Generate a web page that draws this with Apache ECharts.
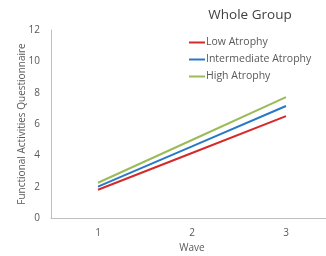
<!DOCTYPE html>
<html>
<head>
<meta charset="utf-8">
<script src="https://cdn.jsdelivr.net/npm/echarts@6/dist/echarts.min.js"></script>
<style>
  html, body { margin: 0; padding: 0; background: #fff; }
  #main { width: 326px; height: 256px; }
</style>
</head>
<body>
<div id="main"></div>
<script>
const waves = ['1', '2', '3']
const lowAtrophy = [1.8, 4.15, 6.5]
const intermediateAtrophy = [2.0, 4.57, 7.15]
const highAtrophy = [2.25, 4.98, 7.72]
const yTicks = [0, 2, 4, 6, 8, 10, 12]

const font = 'Open Sans'
const chart = echarts.init(document.getElementById('main'))

const mkLine = (name, data, color) => ({
  name,
  type: 'line',
  data,
  symbol: 'none',
  lineStyle: { color, width: 2 },
  itemStyle: { color }
})

chart.setOption({
  animation: false,
  title: {
    text: 'Whole Group',
    left: 245,
    top: 3,
    textAlign: 'center',
    textStyle: { fontFamily: font, fontSize: 13.5, fontWeight: 'normal', color: '#404040' }
  },
  legend: {
    left: 184,
    top: 32,
    orient: 'vertical',
    itemGap: 6,
    itemWidth: 16,
    itemHeight: 2,
    icon: 'rect',
    textStyle: { fontFamily: font, fontSize: 10.5, color: '#595959', padding: [0, 0, 0, -4] },
    data: ['Low Atrophy', 'Intermediate Atrophy', 'High Atrophy']
  },
  grid: { left: 51, top: 30, width: 282, height: 188, outerBoundsMode: 'none', containLabel: false },
  xAxis: {
    type: 'category',
    data: waves,
    boundaryGap: true,
    name: 'Wave',
    nameLocation: 'middle',
    nameGap: 25,
    nameTextStyle: { fontFamily: font, fontSize: 10, color: '#595959' },
    axisLine: { lineStyle: { color: '#bfbfbf', width: 1 } },
    axisTick: { show: false },
    axisLabel: { fontFamily: font, fontSize: 10, color: '#595959', margin: 10 }
  },
  yAxis: {
    type: 'value',
    min: yTicks[0],
    max: yTicks[yTicks.length - 1],
    interval: 2,
    name: 'Functional Activities Questionnaire',
    nameLocation: 'middle',
    nameGap: 24,
    nameMoveOverlap: false,
    nameTextStyle: { fontFamily: font, fontSize: 10, color: '#595959' },
    axisLine: { show: true, lineStyle: { color: '#bfbfbf', width: 1 } },
    axisTick: { show: false },
    splitLine: { show: false },
    axisLabel: { fontFamily: font, fontSize: 10, color: '#595959', margin: 11 }
  },
  series: [
    mkLine('Low Atrophy', lowAtrophy, '#d42a2a'),
    mkLine('Intermediate Atrophy', intermediateAtrophy, '#2878c8'),
    mkLine('High Atrophy', highAtrophy, '#9bbb59')
  ]
})
</script>
</body>
</html>
